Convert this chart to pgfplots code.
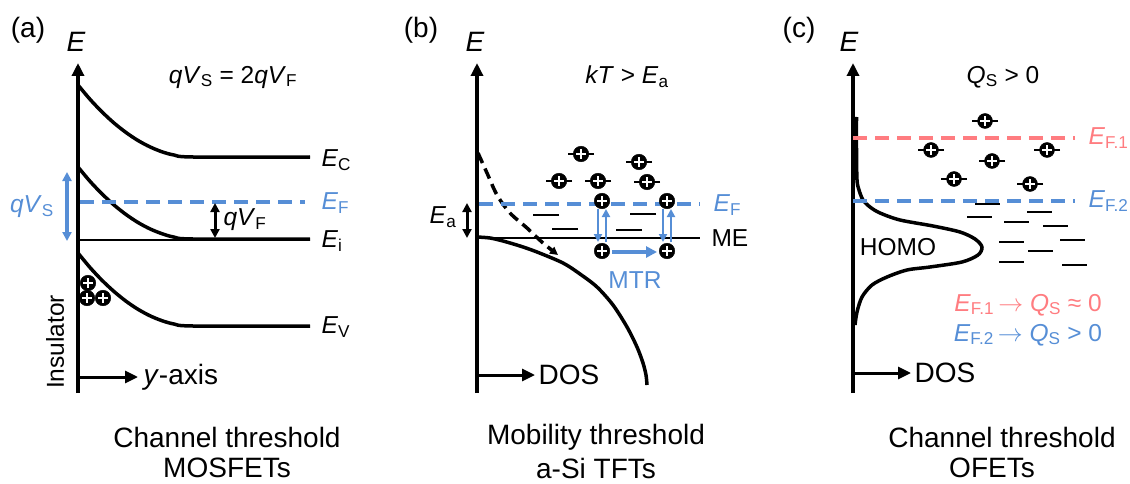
\documentclass[border=0pt]{standalone}
\usepackage{pgfplots}
\pgfplotsset{compat=1.18}
\usepackage{fontspec}
\setmainfont{Liberation Sans}
\usetikzlibrary{arrows.meta}
\definecolor{eblue}{RGB}{86,142,214}
\definecolor{ered}{RGB}{255,124,128}
\newcommand{\fa}{\fontsize{28}{32}\selectfont}
\newcommand{\fb}{\fontsize{24.5}{28}\selectfont}
\newcommand{\sub}[1]{\textsubscript{#1}}
\begin{document}
\begin{tikzpicture}
\useasboundingbox (0,0) rectangle (1130pt,484pt);
\begin{axis}[at={(0,0)}, anchor=south west, scale only axis, width=1130pt, height=484pt,
  xmin=0, xmax=1130, ymin=0, ymax=484, y dir=reverse, hide axis, clip=false,
  ln/.style={mark=none, black, line width=3.5pt, line join=round},
  ax/.style={mark=none, black, line width=3.5pt, -{Triangle[width=12pt,length=13pt]}},
  ef/.style={mark=none, line width=4pt, dash pattern=on 14pt off 8pt},
  dbl/.style={{Triangle[width=9pt,length=9pt]}-{Triangle[width=9pt,length=9pt]}}]

% ================= panel (a) =================
\addplot[ax] coordinates {(78,393) (78,63)};
\addplot[ax, line width=3pt] coordinates {(78,377) (138,377)};
\addplot[mark=none, black, line width=1.2pt] coordinates {(78,240) (310,240)};
\addplot[ln, smooth] coordinates {(78,85) (90,99.3) (102,111.9) (114,123) (126,132.5) (138,140.5) (150,146.9) (162,151.8) (174,155) (193,157) (310,157)};
\addplot[ln, smooth] coordinates {(78,167) (90,181.3) (102,193.9) (114,205) (126,214.5) (138,222.5) (150,228.9) (162,233.7) (174,237.1) (193,239) (310,239)};
\addplot[ln, smooth] coordinates {(78,253) (90,267.5) (102,280.3) (114,291.5) (126,301.2) (138,309.3) (150,315.8) (162,320.7) (174,324) (193,326) (310,326)};
\addplot[ef, eblue] coordinates {(80,202) (305,202)};
\addplot[mark=none, eblue, line width=3.5pt, dbl] coordinates {(67,172) (67,241)};
\addplot[mark=none, black, line width=3pt, dbl] coordinates {(215,203) (215,238)};
\addplot[only marks, mark=*, mark size=7.8pt, mark options={fill=black, draw=black}] coordinates {(88,283) (87,298) (103,298)};
\addplot[only marks, mark=+, mark size=5pt, mark options={white, line width=1.8pt}] coordinates {(88,283) (87,298) (103,298)};

\node[font=\fa] at (axis cs:28,30) {(a)};
\node[font=\fa] at (axis cs:76,42) {\textit{E}};
\node[font=\fb] at (axis cs:233,77) {\textit{qV}\sub{S} = 2\textit{qV}\sub{F}};
\node[font=\fb, anchor=west] at (axis cs:318,160) {\textit{E}\sub{C}};
\node[font=\fb, anchor=west, text=eblue] at (axis cs:318,203) {\textit{E}\sub{F}};
\node[font=\fb, anchor=west] at (axis cs:318,241) {\textit{E}\sub{i}};
\node[font=\fb, anchor=west] at (axis cs:318,327) {\textit{E}\sub{V}};
\node[font=\fb, text=eblue] at (axis cs:32,207) {\textit{qV}\sub{S}};
\node[font=\fb, anchor=west] at (axis cs:220,220) {\textit{qV}\sub{F}};
\node[font=\fb, rotate=90] at (axis cs:55,342) {Insulator};
\node[font=\fa, anchor=west] at (axis cs:140,377) {\textit{y}-axis};
\node[font=\fa] at (axis cs:227,437) {Channel threshold};
\node[font=\fa] at (axis cs:227,468) {MOSFETs};

% ================= panel (b) =================
\addplot[ax] coordinates {(477,393) (477,63)};
\addplot[ax, line width=3pt] coordinates {(477,375) (535,375)};
\addplot[mark=none, black, line width=2pt] coordinates {(477,238) (700,238)};
\addplot[ln, smooth] coordinates {(477,237) (490,238) (503,241) (520,246) (537,252) (563,263) (580,274) (597,287) (613,305) (627,327) (637,347) (643,363) (646,375) (647,385)};
\addplot[mark=none, black, line width=3.5pt, dash pattern=on 11pt off 6pt, -{Triangle[width=8pt,length=8pt]}, smooth] coordinates {(478,153) (487,173) (497,195) (510,213) (527,228) (543,243) (558,255)};
\addplot[ef, eblue] coordinates {(479,204) (700,204)};
\addplot[mark=none, black, line width=3pt, dbl] coordinates {(467,203) (467,238)};
\addplot[only marks, mark=-, mark size=13pt, mark options={black, line width=2pt}] coordinates {(546,215) (565,229) (643,214) (629,230)};
\addplot[mark=none, eblue, line width=2.5pt, -{Triangle[width=8pt,length=8pt]}] coordinates {(598,209) (598,242)};
\addplot[mark=none, eblue, line width=2.5pt, -{Triangle[width=8pt,length=8pt]}] coordinates {(606,242) (606,209)};
\addplot[mark=none, eblue, line width=2.5pt, -{Triangle[width=8pt,length=8pt]}] coordinates {(663,209) (663,242)};
\addplot[mark=none, eblue, line width=2.5pt, -{Triangle[width=8pt,length=8pt]}] coordinates {(671,242) (671,209)};
\addplot[mark=none, eblue, line width=3.5pt, -{Triangle[width=11pt,length=11pt]}] coordinates {(612,252) (657,252)};
\addplot[only marks, mark=-, mark size=13pt, mark options={black, line width=2pt}] coordinates {(581,154) (639,162) (559,181) (598,181) (647,182)};
\addplot[only marks, mark=*, mark size=7.8pt, mark options={fill=black, draw=black}] coordinates {(581,154) (639,162) (559,181) (598,181) (647,182) (602,201) (667,201) (602,251) (667,251)};
\addplot[only marks, mark=+, mark size=5pt, mark options={white, line width=1.8pt}] coordinates {(581,154) (639,162) (559,181) (598,181) (647,182) (602,201) (667,201) (602,251) (667,251)};

\node[font=\fa] at (axis cs:421,30) {(b)};
\node[font=\fa] at (axis cs:475,42) {\textit{E}};
\node[font=\fb] at (axis cs:627,77) {\textit{kT} > \textit{E}\sub{a}};
\node[font=\fb, anchor=west, text=eblue] at (axis cs:710,205) {\textit{E}\sub{F}};
\node[font=\fb, anchor=west] at (axis cs:708,238) {ME};
\node[font=\fb] at (axis cs:443,217) {\textit{E}\sub{a}};
\node[font=\fb, text=eblue] at (axis cs:635,280) {MTR};
\node[font=\fa, anchor=west] at (axis cs:535,375) {DOS};
\node[font=\fa] at (axis cs:596,437) {Mobility threshold};
\node[font=\fa] at (axis cs:596,468) {a-Si TFTs};

% ================= panel (c) =================
\addplot[ax] coordinates {(853,393) (853,63)};
\addplot[ax, line width=3pt] coordinates {(853,373) (911,373)};
\addplot[ln, smooth] coordinates {(856.5,117) (856.5,150) (857,180) (859,190) (863,200) (870,207) (880,213) (900,220) (933,226) (960,232) (975,239) (982,247) (978,255) (962,262) (930,267) (907,270) (887,277) (872,285) (862,297) (857,312) (855,325)};
\addplot[ef, ered] coordinates {(853,138) (1075,138)};
\addplot[ef, eblue] coordinates {(853,201) (1075,201)};
\addplot[only marks, mark=-, mark size=12.5pt, mark options={black, line width=2pt}] coordinates {(987,204) (1039,212) (979,217) (1016,222) (1055,226) (1011,242) (1072,240) (1040,251) (1011,262) (1074,265)};
\addplot[only marks, mark=-, mark size=13pt, mark options={black, line width=2pt}] coordinates {(985,121) (931,150) (1047,150) (992,161) (954,179) (1030,184)};
\addplot[only marks, mark=*, mark size=7.5pt, mark options={fill=black, draw=black}] coordinates {(985,121) (931,150) (1047,150) (992,161) (954,179) (1030,184)};
\addplot[only marks, mark=+, mark size=4.8pt, mark options={white, line width=1.8pt}] coordinates {(985,121) (931,150) (1047,150) (992,161) (954,179) (1030,184)};

\node[font=\fa] at (axis cs:799,30) {(c)};
\node[font=\fa] at (axis cs:849,42) {\textit{E}};
\node[font=\fb] at (axis cs:1003,77) {\textit{Q}\sub{S} > 0};
\node[font=\fb, anchor=west, text=ered] at (axis cs:1085,138) {\textit{E}\sub{F.1}};
\node[font=\fb, anchor=west, text=eblue] at (axis cs:1085,201) {\textit{E}\sub{F.2}};
\node[font=\fb] at (axis cs:898,247) {HOMO};
\node[font=\fb, text=ered] at (axis cs:1028,305) {\textit{E}\sub{F.1}\,$\rightarrow$ \textit{Q}\sub{S} ≈ 0};
\node[font=\fb, text=eblue] at (axis cs:1028,335) {\textit{E}\sub{F.2}\,$\rightarrow$ \textit{Q}\sub{S} > 0};
\node[font=\fa, anchor=west] at (axis cs:911,373) {DOS};
\node[font=\fa] at (axis cs:1002,437) {Channel threshold};
\node[font=\fa] at (axis cs:992,468) {OFETs};
\end{axis}
\end{tikzpicture}
\end{document}
